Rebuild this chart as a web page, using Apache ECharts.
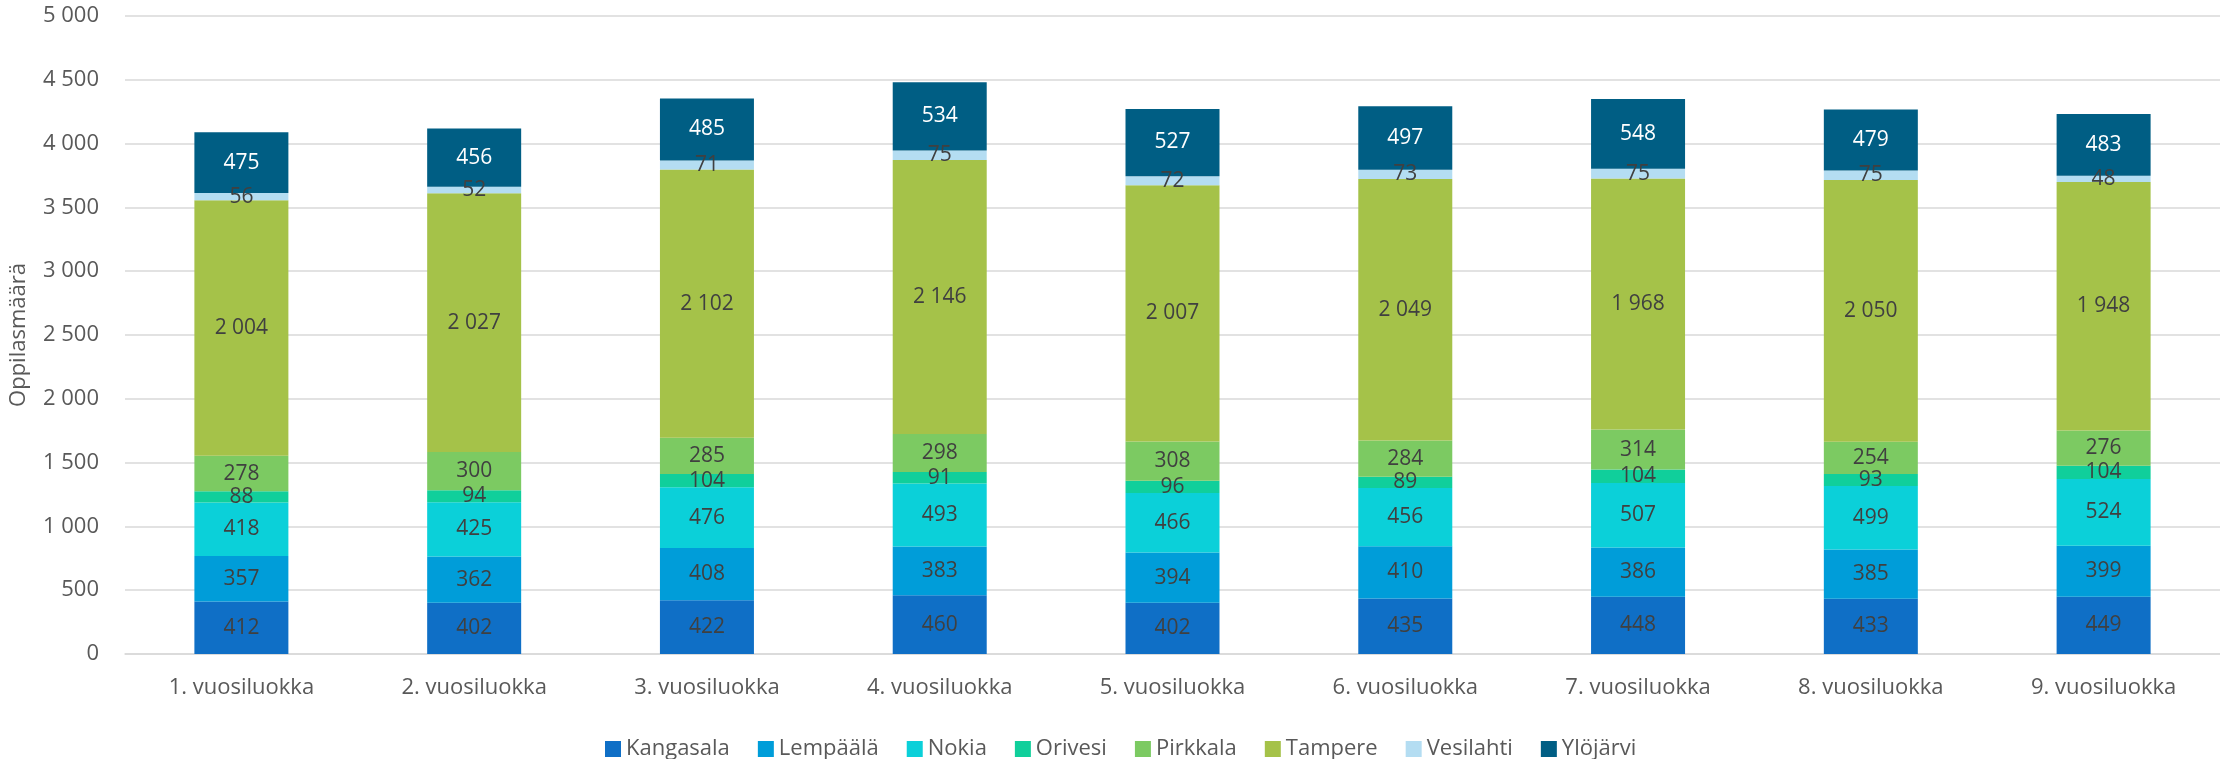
<!DOCTYPE html>
<html>
<head>
<meta charset="utf-8">
<script src="https://cdn.jsdelivr.net/npm/echarts@6/dist/echarts.min.js"></script>
<style>html,body{margin:0;padding:0;background:#fff;}#c{width:2220px;height:759px;}</style>
</head>
<body>
<div id="c"></div>
<script>
const categories = ['1. vuosiluokka','2. vuosiluokka','3. vuosiluokka','4. vuosiluokka','5. vuosiluokka','6. vuosiluokka','7. vuosiluokka','8. vuosiluokka','9. vuosiluokka'];
const seriesNames = ['Kangasala','Lempäälä','Nokia','Orivesi','Pirkkala','Tampere','Vesilahti','Ylöjärvi'];
const kangasala = [412,402,422,460,402,435,448,433,449];
const lempaala  = [357,362,408,383,394,410,386,385,399];
const nokia     = [418,425,476,493,466,456,507,499,524];
const orivesi   = [88,94,104,91,96,89,104,93,104];
const pirkkala  = [278,300,285,298,308,284,314,254,276];
const tampere   = [2004,2027,2102,2146,2007,2049,1968,2050,1948];
const vesilahti = [56,52,71,75,72,73,75,75,48];
const ylojarvi  = [475,456,485,534,527,497,548,479,483];
const seriesData = [kangasala,lempaala,nokia,orivesi,pirkkala,tampere,vesilahti,ylojarvi];
const colors = ['#0F6FC6','#009DD9','#0BD0D9','#10CF9B','#7CCA62','#A5C249','#B4DDF2','#005E84'];
const labelColors = ['#404040','#404040','#404040','#404040','#404040','#404040','#404040','#ffffff'];

const fmt = v => String(v).replace(/\B(?=(\d{3})+(?!\d))/g, ' ');
const FONT = '"Open Sans", "DejaVu Sans", sans-serif';

const chart = echarts.init(document.getElementById('c'), null, {renderer:'canvas'});
chart.setOption({
  animation: false,
  color: colors,
  textStyle: {fontFamily: FONT},
  grid: {left: 125, top: 16, width: 2102, height: 638, containLabel: false},
  legend: {
    data: seriesNames,
    left: 600, top: 733,
    itemWidth: 16, itemHeight: 16, itemGap: 28,
    icon: 'rect',
    textStyle: {fontSize: 22, color: '#595959', fontFamily: FONT}
  },
  xAxis: {
    type: 'category', data: categories,
    axisTick: {show: false},
    axisLine: {lineStyle: {color: '#D9D9D9', width: 1.5}},
    axisLabel: {fontSize: 22, color: '#595959', margin: 23, fontFamily: FONT}
  },
  yAxis: {
    type: 'value', min: 0, max: 5000, interval: 500,
    name: 'Oppilasmäärä', nameLocation: 'middle', nameGap: 95,
    nameTextStyle: {fontSize: 22, color: '#595959', fontFamily: FONT},
    axisLine: {show: false}, axisTick: {show: false},
    splitLine: {lineStyle: {color: '#D9D9D9', width: 1.5}},
    axisLabel: {fontSize: 22, color: '#595959', margin: 26, formatter: fmt, fontFamily: FONT}
  },
  series: seriesNames.map((n, i) => ({
    name: n, type: 'bar', stack: 'total',
    data: seriesData[i],
    barWidth: 94,
    itemStyle: {color: colors[i]},
    label: {show: true, position: 'inside', fontSize: 21, color: labelColors[i], formatter: p => fmt(p.value), fontFamily: FONT}
  }))
});
</script>
</body>
</html>
